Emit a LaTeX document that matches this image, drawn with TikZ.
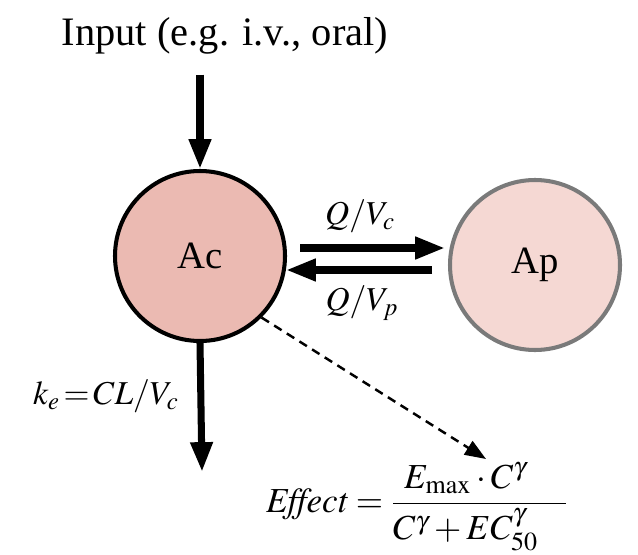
\documentclass[tikz,border=0pt]{standalone}
\usepackage{mathptmx}
\usepackage{fontspec}
\setmainfont{Liberation Serif}
\usetikzlibrary{arrows.meta}

\definecolor{centralFill}{HTML}{EBBAB2}
\definecolor{periphFill}{HTML}{F5D8D3}
\definecolor{periphLine}{HTML}{7A7A7A}

\begin{document}
\begin{tikzpicture}[
    x=0.02cm, y=-0.02cm,
    comp/.style={circle, minimum size=170*0.02cm, inner sep=0pt,
        line width=2.3pt, font=\fontsize{22}{26}\selectfont},
    flow/.style={line width=4pt, -{Triangle[length=17pt, width=12pt]}},
    lbl/.style={font=\fontsize{19}{23}\selectfont},
]
\useasboundingbox (0,0) rectangle (638,554);

% Compartments
\node[comp, draw=black, fill=centralFill] (ac) at (200,256) {Ac};
\node[comp, draw=periphLine, fill=periphFill] (ap) at (535,265) {Ap};

% Dosing input
\node[font=\fontsize{23}{27}\selectfont] (input) at (225,36) {Input (e.g. i.v., oral)};
\draw[flow] (input.south -| ac) ++(0,14) coordinate (inTop) -- (ac.north);

% Distribution between compartments
\coordinate (qcStart) at (300,248);
\coordinate (qcEnd) at (445,248);
\coordinate (qpStart) at (432,270);
\coordinate (qpEnd) at (286,270);
\draw[flow] (qcStart) -- (qcEnd);
\draw[flow] (qpStart) -- (qpEnd);
\node[lbl] (qc) at (360,216) {$Q/V_c$};
\node[lbl] (qp) at (362,303) {$Q/V_p$};

% Elimination
\coordinate (elimEnd) at (202,472);
\draw[flow] (ac.south) -- (elimEnd);
\node[lbl] (ke) at (106,396) {$k_e\!=\!CL/V_c$};

% Effect link
\coordinate (effTip) at (486,459);
\draw[line width=1.4pt, dash pattern=on 5pt off 3.5pt,
    -{Triangle[length=12pt, width=9pt]}] (ac.-45) -- (effTip);
\node[lbl, font=\fontsize{20}{24}\selectfont, anchor=west, inner sep=1pt] (effect) at (264,507)
    {$\mathit{Effect} = \displaystyle\frac{E_{\max}\cdot C^{\gamma}\hspace{0.8em}}{C^{\gamma}+EC_{50}^{\gamma}\hspace{0.8em}}$};

\end{tikzpicture}
\end{document}
